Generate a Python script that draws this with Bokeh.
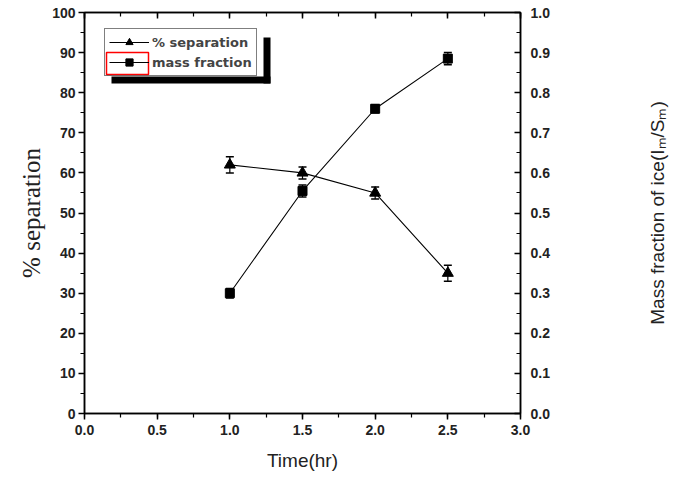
from bokeh.plotting import figure
from bokeh.layouts import row
from bokeh.models import (ColumnDataSource, Range1d, LinearAxis, SingleIntervalTicker, FixedTicker,
                          Whisker, TeeHead, Legend, LegendItem, BoxAnnotation,
                          NumeralTickFormatter, CustomJSTickFormatter)
from bokeh.embed import file_html
from bokeh.resources import INLINE

# ---- data ----
time_hr = [1.0, 1.5, 2.0, 2.5]
separation = [62, 60, 55, 35]
separation_err = [2.0, 1.5, 1.5, 2.0]
mass_fraction = [0.30, 0.555, 0.76, 0.885]
mass_fraction_err = [0.012, 0.015, 0.01, 0.015]
right_title = "Mass fraction of ice(I\u2098/S\u2098)"

src_sep = ColumnDataSource(dict(x=time_hr, y=separation,
                                lo=[v - e for v, e in zip(separation, separation_err)],
                                hi=[v + e for v, e in zip(separation, separation_err)]))
src_mf = ColumnDataSource(dict(x=time_hr, y=mass_fraction,
                               lo=[v - e for v, e in zip(mass_fraction, mass_fraction_err)],
                               hi=[v + e for v, e in zip(mass_fraction, mass_fraction_err)]))

FL, FT, FW, FH = 84, 12, 436, 406  # frame left/top/width/height
W, H = 639, 473                     # main figure
FB = H - FT - FH                    # bottom border
TW = 30                             # narrow strip carrying the right-hand title

p = figure(width=W, height=H, output_backend="svg", toolbar_location=None,
           x_range=Range1d(0, 3), y_range=Range1d(0, 100),
           min_border_left=FL, min_border_right=W - FL - FW,
           min_border_top=FT, min_border_bottom=FB)
p.extra_y_ranges = {"mf": Range1d(0, 1)}
p.xgrid.visible = False
p.ygrid.visible = False
p.outline_line_color = "black"
p.outline_line_width = 1.5

tick_font = "Liberation Sans"

def style_axis(ax):
    ax.axis_line_width = 1.5
    ax.major_tick_line_width = 1.5
    ax.minor_tick_line_width = 1.2
    ax.major_label_text_font = tick_font
    ax.major_label_text_font_style = "bold"
    ax.major_label_text_font_size = "14px"
    ax.major_label_text_color = "#222222"

# bottom axis
xa = p.xaxis[0]
xa.ticker = SingleIntervalTicker(interval=0.5, num_minor_ticks=2)
xa.formatter = NumeralTickFormatter(format="0.0")
style_axis(xa)
xa.major_tick_out = 6
xa.major_tick_in = 0
xa.minor_tick_out = 4
xa.minor_tick_in = 0
xa.major_label_standoff = 5
xa.axis_label = "Time(hr)"
xa.axis_label_text_font = tick_font
xa.axis_label_text_font_style = "normal"
xa.axis_label_text_font_size = "19px"
xa.axis_label_text_color = "#222222"
xa.axis_label_standoff = 12

# left axis
ya = p.yaxis[0]
ya.ticker = SingleIntervalTicker(interval=10, num_minor_ticks=2)
style_axis(ya)
ya.major_tick_out = 6
ya.major_tick_in = 0
ya.minor_tick_out = 4
ya.minor_tick_in = 0
ya.major_label_standoff = 3
ya.axis_label = "% separation"
ya.axis_label_text_font = "Liberation Serif"
ya.axis_label_text_font_style = "normal"
ya.axis_label_text_font_size = "25px"
ya.axis_label_text_color = "#222222"
ya.axis_label_standoff = 4

# top axis (ticks only, inward)
top = LinearAxis(ticker=SingleIntervalTicker(interval=0.5, num_minor_ticks=2),
                 formatter=CustomJSTickFormatter(code="return ''"))
style_axis(top)
top.major_tick_out = 0
top.major_tick_in = 6
top.minor_tick_out = 0
top.minor_tick_in = 4
top.major_label_standoff = 0
p.add_layout(top, "above")

# right axis
ra = LinearAxis(y_range_name="mf", ticker=SingleIntervalTicker(interval=0.1, num_minor_ticks=2),
                formatter=NumeralTickFormatter(format="0.0"))
style_axis(ra)
ra.major_tick_out = 0
ra.major_tick_in = 6
ra.minor_tick_out = 0
ra.minor_tick_in = 4
ra.major_label_standoff = 10
p.add_layout(ra, "right")

# series
l1 = p.line("x", "y", source=src_sep, line_color="black", line_width=1.1)
s1 = p.scatter("x", "y", source=src_sep, marker="triangle", size=11,
               fill_color="black", line_color="black")
p.add_layout(Whisker(source=src_sep, base="x", lower="lo", upper="hi",
                     line_color="black", line_width=1.2,
                     upper_head=TeeHead(size=8, line_width=1.5, line_color="black"),
                     lower_head=TeeHead(size=8, line_width=1.5, line_color="black")))

l2 = p.line("x", "y", source=src_mf, y_range_name="mf", line_color="black", line_width=1.1)
s2 = p.scatter("x", "y", source=src_mf, y_range_name="mf", marker="square", size=9,
               fill_color="black", line_color="black")
p.add_layout(Whisker(source=src_mf, base="x", lower="lo", upper="hi", y_range_name="mf",
                     line_color="black", line_width=1.2,
                     upper_head=TeeHead(size=8, line_width=1.5, line_color="black"),
                     lower_head=TeeHead(size=8, line_width=1.5, line_color="black")))

# legend geometry (screen px relative to frame bottom-left)
LG_X, LG_TOP, LG_W, LG_H = 20, 23, 159, 46
LG_BOTTOM = FH - LG_TOP - LG_H
SH = 7  # shadow offset
box_units = dict(left_units="screen", right_units="screen",
                 top_units="screen", bottom_units="screen")

# L-shaped drop shadow (right strip and bottom strip)
p.add_layout(BoxAnnotation(left=LG_X + LG_W, right=LG_X + LG_W + SH,
                           top=FH - LG_TOP - SH, bottom=LG_BOTTOM - SH,
                           fill_color="black", fill_alpha=1, line_alpha=0, **box_units))
p.add_layout(BoxAnnotation(left=LG_X + SH, right=LG_X + LG_W + SH,
                           top=LG_BOTTOM, bottom=LG_BOTTOM - SH,
                           fill_color="black", fill_alpha=1, line_alpha=0, **box_units))

legend = Legend(items=[LegendItem(label="% separation", renderers=[l1, s1]),
                       LegendItem(label="mass fraction", renderers=[l2, s2])],
                location=(LG_X, LG_BOTTOM))
legend.label_text_font = "DejaVu Sans"
legend.label_text_font_style = "bold"
legend.label_text_font_size = "13px"
legend.label_height = 18
legend.glyph_height = 18
legend.glyph_width = 40
legend.label_standoff = 3
legend.spacing = 2
legend.padding = 4
legend.margin = 0
legend.border_line_color = "black"
legend.border_line_width = 1.5
legend.background_fill_alpha = 0
p.add_layout(legend)

# red highlight box around the second legend glyph
p.add_layout(BoxAnnotation(left=LG_X + 2, right=LG_X + 44, top=FH - 45, bottom=FH - 67,
                           fill_alpha=0, line_color="red", line_alpha=1, line_width=1.5,
                           **box_units))

# narrow strip whose left axis label is the right-hand title (reads bottom-to-top)
t = figure(width=TW, height=H, output_backend="svg", toolbar_location=None,
           x_range=Range1d(0, 1), y_range=Range1d(0, 1),
           min_border_left=TW - 1, min_border_right=0,
           min_border_top=FT, min_border_bottom=FB)
t.outline_line_color = None
t.xgrid.visible = False
t.ygrid.visible = False
t.xaxis.visible = False
ty = t.yaxis[0]
ty.ticker = FixedTicker(ticks=[])
ty.axis_line_alpha = 0
ty.major_tick_out = 0
ty.major_tick_in = 0
ty.minor_tick_out = 0
ty.minor_tick_in = 0
ty.major_label_standoff = 0
ty.axis_label = right_title
ty.axis_label_text_font = tick_font
ty.axis_label_text_font_style = "normal"
ty.axis_label_text_font_size = "19px"
ty.axis_label_text_color = "#222222"
ty.axis_label_standoff = 1

layout = row(p, t, spacing=0)
open("out.html", "w").write(file_html(layout, INLINE))
